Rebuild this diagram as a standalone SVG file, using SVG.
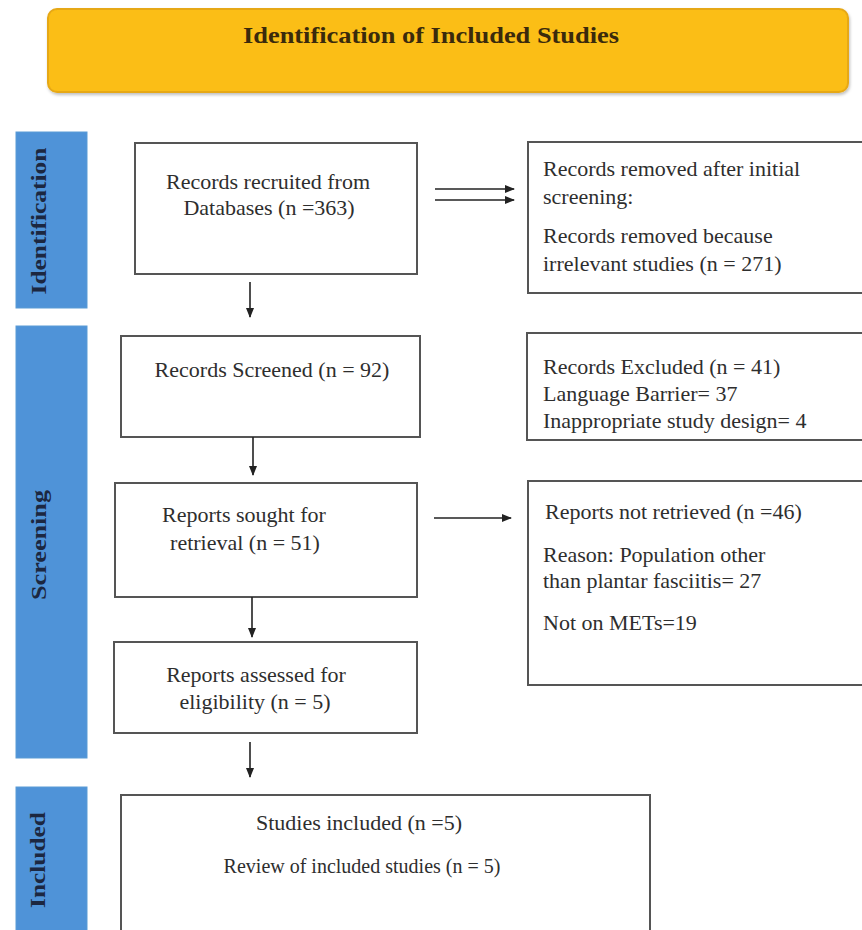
<svg xmlns="http://www.w3.org/2000/svg" width="862" height="930" viewBox="0 0 862 930">
<defs>
<marker id="ah" viewBox="0 0 10 10" refX="9" refY="5" markerWidth="10" markerHeight="10" markerUnits="userSpaceOnUse" orient="auto">
<path d="M0,1 L10,5 L0,9 Z" fill="#222"/>
</marker>
<filter id="sh" x="-5%" y="-5%" width="110%" height="115%">
<feDropShadow dx="1" dy="2" stdDeviation="1.5" flood-color="#000" flood-opacity="0.25"/>
</filter>
</defs>
<style>
.box{fill:#fff;stroke:#555;stroke-width:2}
.bar{fill:#4f93d8;stroke:#5b9bd5;stroke-width:1}
.t{font-family:"Liberation Serif","Times New Roman",serif;font-size:22px;fill:#2e2e2e}
.c{text-anchor:middle}
.side{font-family:"Liberation Serif","Times New Roman",serif;font-size:20px;font-weight:bold;fill:#1c2740;text-anchor:middle}
.edge{stroke:#222;stroke-width:1.6;fill:none;marker-end:url(#ah)}
</style>
<rect width="862" height="930" fill="#fff"/>

<g id="header">
<rect x="48" y="9" width="800" height="83" rx="9" fill="#fbbe12" stroke="#e6a816" stroke-width="2" filter="url(#sh)"/>
<text x="431" y="43" class="c" textLength="376" lengthAdjust="spacingAndGlyphs" style="font-family:'Liberation Serif','Times New Roman',serif;font-size:24px;font-weight:bold;fill:#3a2a0c">Identification of Included Studies</text>
</g>

<g id="bar-identification">
<rect class="bar" x="16" y="132" width="71" height="176"/>
<text class="side" transform="translate(46,221) rotate(-90)" textLength="147" lengthAdjust="spacingAndGlyphs">Identification</text>
</g>
<g id="bar-screening">
<rect class="bar" x="16" y="326" width="71" height="432"/>
<text class="side" transform="translate(46,545) rotate(-90)" textLength="110" lengthAdjust="spacingAndGlyphs">Screening</text>
</g>
<g id="bar-included">
<rect class="bar" x="16" y="787" width="71" height="150"/>
<text class="side" transform="translate(45,860) rotate(-90)" textLength="96" lengthAdjust="spacingAndGlyphs">Included</text>
</g>

<g id="records-recruited">
<rect class="box" x="135" y="143" width="282" height="131"/>
<text class="t c" x="268" y="189">Records recruited from</text>
<text class="t c" x="269" y="215">Databases (n =363)</text>
</g>

<g id="records-removed">
<rect class="box" x="528" y="142" width="340" height="151"/>
<text class="t" x="543" y="176">Records removed after initial</text>
<text class="t" x="543" y="204">screening:</text>
<text class="t" x="543" y="243">Records removed because</text>
<text class="t" x="543" y="271">irrelevant studies (n = 271)</text>
</g>

<g id="records-screened">
<rect class="box" x="121" y="336" width="299" height="101"/>
<text class="t c" x="272" y="377">Records Screened (n = 92)</text>
</g>

<g id="records-excluded">
<rect class="box" x="527" y="333" width="341" height="107"/>
<text class="t" x="543" y="374">Records Excluded (n = 41)</text>
<text class="t" x="543" y="401">Language Barrier= 37</text>
<text class="t" x="543" y="428">Inappropriate study design= 4</text>
</g>

<g id="reports-sought">
<rect class="box" x="115" y="483" width="302" height="114"/>
<text class="t c" x="244" y="522">Reports sought for</text>
<text class="t c" x="245" y="550">retrieval (n = 51)</text>
</g>

<g id="reports-not-retrieved">
<rect class="box" x="528" y="481" width="340" height="204"/>
<text class="t" x="545" y="519">Reports not retrieved (n =46)</text>
<text class="t" x="543" y="562">Reason: Population other</text>
<text class="t" x="543" y="588">than plantar fasciitis= 27</text>
<text class="t" x="543" y="630">Not on METs=19</text>
</g>

<g id="reports-assessed">
<rect class="box" x="114" y="642" width="303" height="91"/>
<text class="t c" x="256" y="682">Reports assessed for</text>
<text class="t c" x="255" y="709">eligibility (n = 5)</text>
</g>

<g id="studies-included">
<rect class="box" x="121" y="795" width="529" height="140"/>
<text class="t c" x="359" y="830">Studies included (n =5)</text>
<text class="t c" x="362" y="873" style="font-size:20px">Review of included studies (n = 5)</text>
</g>

<g id="connectors">
<line class="edge" x1="435" y1="189" x2="514" y2="189"/>
<line class="edge" x1="435" y1="200" x2="514" y2="200"/>
<line class="edge" x1="250" y1="282" x2="250" y2="317"/>
<line class="edge" x1="253" y1="437" x2="253" y2="475"/>
<line class="edge" x1="434" y1="518" x2="511" y2="518"/>
<line class="edge" x1="252" y1="597" x2="252" y2="637"/>
<line class="edge" x1="250" y1="742" x2="250" y2="777"/>
</g>
</svg>
